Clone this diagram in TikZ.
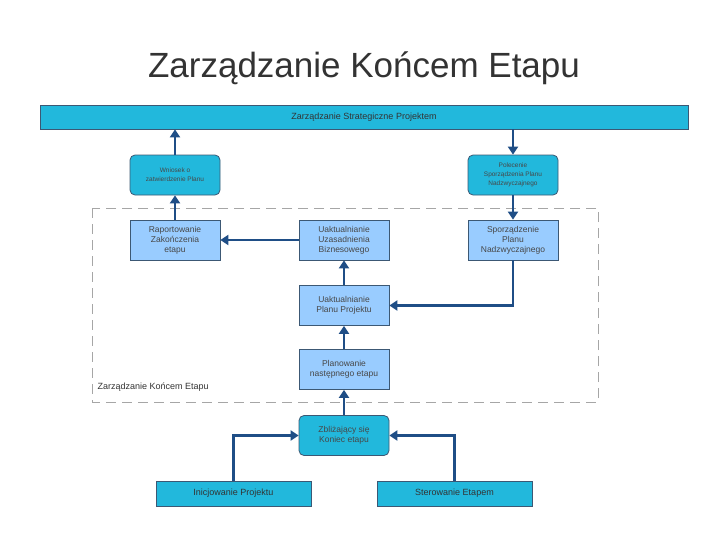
\documentclass[tikz,border=0pt]{standalone}
\usepackage{fontspec}
\setmainfont{Liberation Sans}
\usetikzlibrary{arrows.meta}
\definecolor{cyanb}{HTML}{22B8DC}
\definecolor{lblue}{HTML}{99CCFF}
\definecolor{edge}{HTML}{3C5874}
\definecolor{arr}{HTML}{1F4E86}
\definecolor{ttl}{HTML}{333333}
\begin{document}
\begin{tikzpicture}[x=1pt,y=-1pt,
 box/.style={draw=edge,line width=0.8pt,fill=lblue,minimum width=90pt,minimum height=40pt,inner sep=1pt,align=center,font=\fontsize{8.5}{10}\selectfont,text=ttl!90},
 rbox/.style={box,fill=cyanb,rounded corners=5pt,font=\fontsize{6.5}{9}\selectfont},
 cbox/.style={draw=edge,line width=0.8pt,fill=cyanb,minimum width=155pt,minimum height=25pt,inner sep=1pt,font=\fontsize{9}{11}\selectfont,text=ttl},
 ar/.style={draw=arr,line width=2.5pt,-{Triangle[length=8pt,width=10pt]}}]
\useasboundingbox (0,0) rectangle (728,546);
\fill[white] (0,0) rectangle (728,546);
\node[text=ttl,font=\fontsize{35}{40}\selectfont] (title) at (364,68) {Zarządzanie Końcem Etapu};
\node[cbox,minimum width=648pt,minimum height=24pt] (bar) at (364,117) {Zarządzanie Strategiczne Projektem};
\draw[gray!70,dashed,dash pattern=on 10pt off 6pt,line width=1pt] (92,208) rectangle (598,402);
\node[anchor=west,font=\fontsize{9}{11}\selectfont,text=ttl] (lab) at (94,387) {Zarządzanie Końcem Etapu};
\node[rbox] (wn) at (175,175) {Wniosek o\\zatwierdzenie Planu};
\node[rbox] (pol) at (513,175) {Polecenie\\Sporządzenia Planu\\Nadzwyczajnego};
\node[box] (rap) at (175,240) {Raportowanie\\Zakończenia\\etapu};
\node[box] (uzb) at (344,240) {Uaktualnianie\\Uzasadnienia\\Biznesowego};
\node[box] (spo) at (513,240) {Sporządzenie\\Planu\\Nadzwyczajnego};
\node[box] (upp) at (344,305.5) {Uaktualnianie\\Planu Projektu};
\node[box] (pla) at (344,369.5) {Planowanie\\następnego etapu};
\node[rbox,font=\fontsize{8.5}{10}\selectfont] (zbl) at (344,435.5) {Zbliżający się\\Koniec etapu};
\node[cbox] (ini) at (233.5,493.5) {Inicjowanie Projektu};
\node[cbox] (ste) at (454.5,493.5) {Sterowanie Etapem};
\draw[ar] (wn.north) -- (wn.north |- bar.south);
\draw[ar] (pol.north |- bar.south) -- (pol.north);
\draw[ar] (pol.south) -- (spo.north);
\draw[ar] (rap.north) -- (wn.south);
\draw[ar] (uzb.west) -- (rap.east);
\draw[ar] (spo.south) |- (upp.east);
\draw[ar] (upp.north) -- (uzb.south);
\draw[ar] (pla.north) -- (upp.south);
\draw[ar] (zbl.north) -- (pla.south);
\draw[ar] (ini.north) |- (zbl.west);
\draw[ar] (ste.north) |- (zbl.east);
\end{tikzpicture}
\end{document}
